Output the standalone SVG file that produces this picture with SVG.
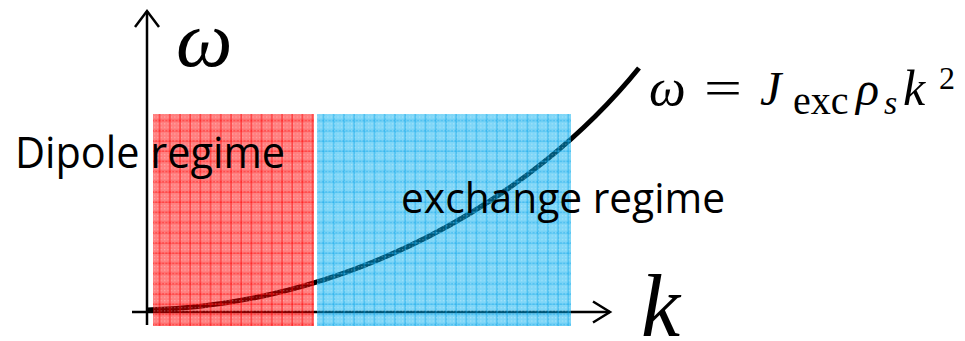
<svg xmlns="http://www.w3.org/2000/svg" width="965" height="341" viewBox="0 0 965 341">
  <defs>
    <pattern id="gridRed" width="10.2" height="10.2" patternUnits="userSpaceOnUse" x="153" y="114">
      <rect width="10.2" height="10.2" fill="#ff0000" fill-opacity="0.5"/>
      <rect x="6" width="1.2" height="10.2" fill="#ff0000" fill-opacity="0.6"/>
      <rect y="6" width="10.2" height="1.2" fill="#ff0000" fill-opacity="0.6"/>
    </pattern>
    <pattern id="gridBlue" width="10.2" height="10.2" patternUnits="userSpaceOnUse" x="317" y="114">
      <rect width="10.2" height="10.2" fill="#00aeef" fill-opacity="0.5"/>
      <rect x="6" width="1.2" height="10.2" fill="#00a0e8" fill-opacity="0.55"/>
      <rect y="6" width="10.2" height="1.2" fill="#00a0e8" fill-opacity="0.55"/>
    </pattern>
    <pattern id="dots" width="3.4" height="3.4" patternUnits="userSpaceOnUse">
      <rect x="1" y="1" width="1" height="1" fill="#ffffff" fill-opacity="0.45"/>
    </pattern>
  </defs>
  <style>
    .axis { stroke: #000; stroke-width: 2.5; fill: none; }
    .curve { stroke: #000; stroke-width: 5; fill: none; stroke-linecap: butt; }
    .label { font-family: "Open Sans", "Liberation Sans", sans-serif; fill: #000; }
    .math { font-family: "Liberation Serif", "DejaVu Serif", serif; fill: #000; }
    .it { font-style: italic; }
  </style>

  <g id="axes">
    <line class="axis" x1="147" y1="11" x2="147" y2="325"/>
    <polyline class="axis" points="135,27 147,11 159,27"/>
    <line class="axis" x1="132" y1="312" x2="610" y2="312"/>
    <polyline class="axis" points="593,301.5 610,312 593,322.5"/>
  </g>

  <g id="dispersion-curve">
    <path class="curve" d="M147,310 C350,304 532,200 639,68"/>
  </g>

  <g id="dipole-region">
    <rect x="153" y="114" width="161" height="212" fill="url(#gridRed)"/>
    <rect x="153" y="114" width="161" height="212" fill="url(#dots)"/>
  </g>
  <g id="exchange-region">
    <rect x="317" y="114" width="254" height="212" fill="url(#gridBlue)"/>
    <rect x="317" y="114" width="254" height="212" fill="url(#dots)"/>
  </g>

  <g id="labels">
    <text class="label" x="15" y="168" font-size="43" textLength="270" lengthAdjust="spacingAndGlyphs">Dipole regime</text>
    <text class="label" x="401" y="213" font-size="42" textLength="324" lengthAdjust="spacingAndGlyphs">exchange regime</text>
  </g>

  <g id="axis-labels">
    <text class="math it" x="176" y="66" font-size="80">ω</text>
    <text class="math it" x="641" y="336" font-size="88">k</text>
  </g>

  <g id="formula">
    <text class="math it" x="649" y="105" font-size="52">ω</text>
    <text class="math" x="704" y="105" font-size="50" textLength="38" lengthAdjust="spacingAndGlyphs">=</text>
    <text class="math it" x="760" y="105" font-size="48">J</text>
    <text class="math" x="793" y="114" font-size="40">exc</text>
    <text class="math it" x="856" y="105" font-size="48">ρ</text>
    <text class="math it" x="884" y="114" font-size="34">s</text>
    <text class="math it" x="903" y="105" font-size="50">k</text>
    <text class="math" x="939" y="89" font-size="32">2</text>
  </g>
</svg>
